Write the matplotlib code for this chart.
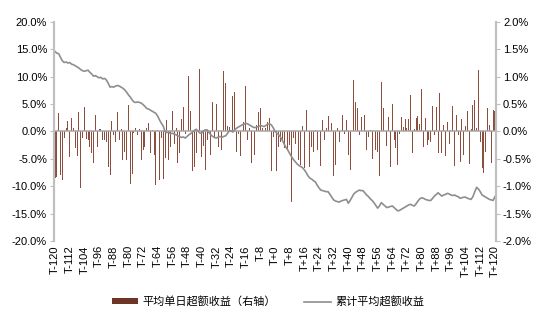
import matplotlib
matplotlib.use('Agg')
import matplotlib.pyplot as plt
import matplotlib.ticker as mtick
from matplotlib.patches import Patch
from matplotlib.lines import Line2D
import numpy as np

plt.rcParams['font.family'] = ['Liberation Sans', 'Noto Sans CJK SC', 'DejaVu Sans']

# event window: T-120 ... T+120
days = np.arange(-120, 121)

# average daily excess return, % (right axis)
daily_excess = [
    -0.85, -0.83, 0.33, -0.80, -0.88, -0.12, 0.06, 0.19, -0.46, 0.25,
    0.06, -0.30, -0.45, 0.36, -1.04, -0.12, 0.45, -0.14, -0.15, -0.28,
    -0.40, -0.57, 0.30, -0.28, 0.04, 0.04, -0.15, -0.15, -0.20, -0.64,
    -0.80, 0.19, -0.07, -0.20, 0.36, -0.15, 0.04, -0.52, -0.37, -0.52,
    0.48, -0.95, -0.77, -0.03, 0.06, -0.06, 0.04, -0.52, -0.34, -0.28,
    0.06, 0.15, -0.40, 0.02, -0.43, -0.98, 0.03, -0.89, -0.12, -0.86,
    -0.49, 0.21, -0.52, -0.28, 0.37, -0.22, 0.06, -0.58, -0.40, 0.23,
    0.45, -0.05, -0.40, 1.01, 0.38, -0.72, -0.65, -0.40, 0.36, 1.15,
    -0.46, -0.27, -0.70, -0.15, -0.34, -0.43, 0.53, -0.10, 0.50, -0.28,
    -0.51, -0.34, 1.11, 0.88, 0.10, 0.08, -0.69, 0.64, 0.72, -0.37,
    -0.05, -0.45, -0.30, 0.18, 0.84, -0.15, 0.06, -0.57, -0.15, -0.43,
    0.12, 0.36, 0.42, 0.07, -0.37, 0.06, 0.18, 0.25, -0.73, -0.10,
    -0.64, -0.73, -0.28, -0.20, -0.15, -0.30, -0.96, -0.34, -0.25, -1.28,
    -0.12, -0.22, -0.52, -0.52, -0.61, 0.10, -0.67, 0.40, -0.80, -0.64,
    -0.28, -0.37, 0.03, -0.34, -0.95, -0.63, 0.21, -0.15, 0.07, 0.28,
    -0.58, 0.15, -0.82, -0.61, 0.06, -0.20, 0.21, 0.30, -0.04, 0.21,
    -0.43, -0.70, 0.30, 0.94, 0.53, 0.42, -0.06, 0.26, -0.27, 0.30,
    -0.34, -0.10, 0.03, -0.51, -0.15, -0.34, -0.37, -0.82, 0.91, 0.42,
    -0.67, -0.27, 0.26, -0.64, 0.50, -0.15, -0.30, -0.61, -0.05, 0.26,
    0.08, 0.23, 0.07, 0.23, 0.67, -0.39, 0.04, 0.24, 0.28, 0.13,
    0.77, -0.28, 0.24, -0.25, -0.15, -0.20, 0.47, -0.06, 0.45, -0.40,
    0.70, -0.40, 0.12, -0.45, 0.18, -0.22, 0.03, 0.47, -0.63, 0.30,
    -0.06, -0.55, 0.23, -0.43, 0.10, 0.37, -0.60, 0.05, 0.48, 0.57,
    0.06, 1.12, -0.20, -0.66, -0.76, -0.37, 0.42, 0.12, -0.58, 0.39,
    0.37,
]

# cumulative average excess return, % (left axis)
cum_excess = [
    14.6, 14.3, 14.2, 13.5, 12.9, 12.6, 12.7, 12.5, 12.6, 12.3,
    12.2, 12.0, 11.8, 11.6, 11.3, 11.1, 11.0, 11.1, 11.2, 10.8,
    10.5, 10.1, 10.2, 10.0, 9.8, 9.9, 9.6, 9.7, 9.4, 8.8,
    8.1, 8.2, 8.1, 8.3, 8.4, 8.3, 8.1, 7.9, 7.6, 7.2,
    6.7, 6.3, 5.8, 5.4, 5.3, 5.4, 5.3, 5.2, 4.9, 4.6,
    4.2, 4.1, 3.9, 3.7, 3.5, 3.3, 2.8, 2.1, 1.5, 1.0,
    0.0, -0.2, -0.1, -0.4, -0.3, -0.5, -0.6, -0.8, -0.9, -1.1,
    -1.0, -1.2, -0.9, -0.6, -0.4, -0.1, 0.2, 0.4, 0.1, -0.3,
    -0.3, 0.1, 0.3, 0.3, -0.2, -0.6, -0.9, -1.1, -1.2, -1.0,
    -0.9, -1.1, -0.9, -0.8, -0.4, 0.1, 0.1, -0.1, 0.3, 0.6,
    0.8, 1.0, 1.2, 1.3, 1.5, 1.4, 1.2, 1.0, 0.8, 0.7,
    0.8, 0.9, 1.1, 1.0, 0.9, 1.1, 1.3, 1.4, 1.2, 0.7,
    0.0, -0.3, -0.6, -1.0, -1.6, -2.3, -2.9, -3.4, -4.0, -4.6,
    -5.1, -5.5, -5.9, -6.2, -6.4, -6.6, -7.0, -7.5, -8.1, -8.5,
    -8.7, -9.0, -9.2, -9.8, -10.3, -10.7, -10.8, -10.9, -11.0, -11.0,
    -11.5, -12.0, -12.5, -12.7, -12.8, -12.9, -12.7, -12.6, -12.5, -12.4,
    -13.1, -12.6, -12.0, -11.4, -11.1, -10.9, -10.7, -10.8, -10.8, -11.2,
    -11.6, -11.9, -12.3, -12.6, -13.0, -13.5, -14.0, -13.6, -13.0, -13.3,
    -13.6, -13.9, -13.8, -13.7, -13.6, -13.9, -14.2, -14.5, -14.4, -14.2,
    -14.0, -13.8, -13.6, -13.4, -13.3, -13.5, -13.6, -13.2, -12.7, -12.3,
    -12.1, -12.2, -12.4, -12.5, -12.6, -12.6, -12.2, -11.8, -11.5, -11.2,
    -11.5, -11.8, -11.6, -11.5, -11.3, -11.4, -11.6, -11.7, -11.6, -11.8,
    -11.9, -12.2, -12.1, -12.0, -12.0, -12.2, -12.3, -12.4, -11.9, -11.0,
    -10.2, -10.5, -11.0, -11.6, -11.8, -12.0, -12.2, -12.4, -12.5, -12.6,
    -11.9,
]

tick_days = np.arange(-120, 121, 8)
tick_labels = ['T%+d' % d if d != 0 else 'T+0' for d in tick_days]

bar_color = '#8C4E3E'
line_color = '#8E8E8E'
axis_gray = '#BFBFBF'

fig = plt.figure(figsize=(5.47, 3.23), dpi=100)
ax = fig.add_axes([0.0987, 0.2539, 0.8081, 0.678])
ax2 = ax.twinx()

ax2.bar(days, daily_excess, width=0.5, color=bar_color, linewidth=0)
ax.plot(days, cum_excess, color=line_color, lw=1.2)

# line above the bars
ax.set_zorder(ax2.get_zorder() + 1)
ax.patch.set_visible(False)

ax.set_ylim(-20, 20)
ax2.set_ylim(-2, 2)
ax.set_xlim(-120.6, 120.6)
ax.axhline(0, color='#A6A6A6', lw=1.1, zorder=0)

ax.set_yticks(np.arange(-20, 21, 5))
ax2.set_yticks(np.arange(-2, 2.01, 0.5))
ax.yaxis.set_major_formatter(mtick.FormatStrFormatter('%.1f%%'))
ax2.yaxis.set_major_formatter(mtick.FormatStrFormatter('%.1f%%'))

ax.set_xticks(tick_days)
ax.set_xticklabels(tick_labels, rotation=90)

for a in (ax, ax2):
    for s in ('top', 'bottom'):
        a.spines[s].set_visible(False)
    a.spines['left'].set_color(axis_gray)
    a.spines['right'].set_color(axis_gray)
    a.spines['left'].set_linewidth(1.5)
    a.spines['right'].set_linewidth(1.5)
    a.tick_params(axis='y', labelsize=8, color=axis_gray, length=3, pad=2)
ax.tick_params(axis='x', labelsize=8, length=0, pad=3)

handles = [
    Patch(facecolor='#6E3526', edgecolor='none', label='平均单日超额收益（右轴）'),
    Line2D([], [], color=line_color, lw=1.2, label='累计平均超额收益'),
]
fig.legend(handles=handles, loc='center', bbox_to_anchor=(0.49, 0.066), ncol=2,
           frameon=False, handlelength=2.4, handleheight=0.5,
           columnspacing=2.5, handletextpad=0.4,
           prop={'family': ['Noto Sans CJK SC', 'DejaVu Sans'], 'size': 8})

fig.savefig('out.png', dpi=100)
